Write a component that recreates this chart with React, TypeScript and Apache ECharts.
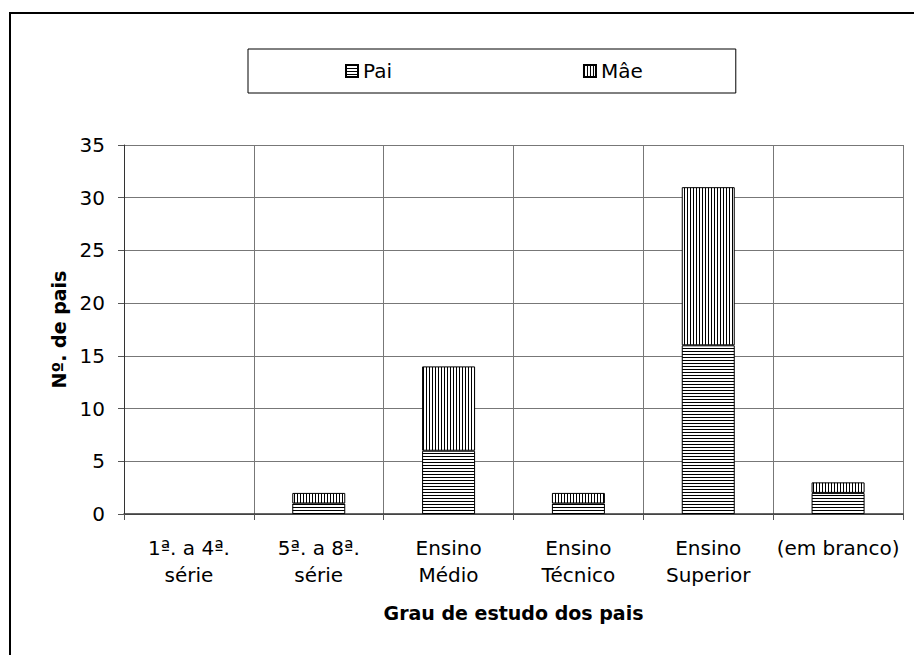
import React, { useEffect, useRef } from "react";
import * as echarts from "echarts";

// Education level categories (x axis)
const categories = [
  "1ª. a 4ª.\nsérie",
  "5ª. a 8ª.\nsérie",
  "Ensino\nMédio",
  "Ensino\nTécnico",
  "Ensino\nSuperior",
  "(em branco)",
];

// Number of fathers / mothers per level (stacked)
const paiValues = [0, 1, 6, 1, 16, 2];
const maeValues = [0, 1, 8, 1, 15, 1];

const seriesNames = ["Pai", "Mâe"];

const yMin = 0;
const yMax = 35;
const yInterval = 5;

const FONT = "DejaVu Sans";

// Line-hatch fills drawn on small canvases and tiled as patterns
function makeHatch(horizontal: boolean) {
  const c = document.createElement("canvas");
  const w = horizontal ? 4 : 3;
  const h = horizontal ? 3 : 4;
  c.width = w;
  c.height = h;
  const ctx = c.getContext("2d")!;
  ctx.fillStyle = "#ffffff";
  ctx.fillRect(0, 0, w, h);
  ctx.fillStyle = "#000000";
  if (horizontal) ctx.fillRect(0, 0, w, 1);
  else ctx.fillRect(0, 0, 1, h);
  return {
    image: c,
    repeat: "repeat",
    imageWidth: w,
    imageHeight: h,
  } as any;
}

// Empty segments get no outline so nothing shows on the axis
const toBarData = (values: number[]) =>
  values.map((v) =>
    v === 0 ? { value: v, itemStyle: { borderWidth: 0 } } : v
  );

export default function App() {
  const ref = useRef<HTMLDivElement>(null);

  useEffect(() => {
    if (!ref.current) return;
    const chart = echarts.init(ref.current, null, { renderer: "svg" });

    const horiz = makeHatch(true);
    const vert = makeHatch(false);

    chart.setOption({
      animation: false,
      backgroundColor: "#ffffff",
      textStyle: { fontFamily: FONT, color: "#000" },
      graphic: [
        {
          type: "rect",
          shape: { x: 10, y: 13, width: 1000, height: 1000 },
          style: { fill: "none", stroke: "#000", lineWidth: 2 },
          silent: true,
          z: 100,
        },
      ],
      legend: {
        left: 248,
        top: 49,
        orient: "horizontal",
        padding: [12, 93, 12, 97],
        itemGap: 191,
        itemWidth: 12,
        itemHeight: 12,
        borderColor: "#000",
        borderWidth: 1,
        backgroundColor: "#fff",
        icon: "rect",
        textStyle: {
          fontFamily: FONT,
          fontSize: 20,
          lineHeight: 20,
          color: "#000",
        },
        data: seriesNames,
      },
      grid: {
        left: 124,
        top: 145,
        right: 11,
        bottom: 141,
        containLabel: false,
      },
      xAxis: {
        type: "category",
        data: categories,
        boundaryGap: true,
        name: "Grau de estudo dos pais",
        nameLocation: "middle",
        nameGap: 89,
        nameTextStyle: {
          fontFamily: FONT,
          fontSize: 19,
          fontWeight: "bold",
          color: "#000",
        },
        axisLine: { show: true, lineStyle: { color: "#333", width: 1.5 } },
        axisTick: {
          show: true,
          length: 6,
          alignWithLabel: false,
          lineStyle: { color: "#555" },
        },
        axisLabel: {
          interval: 0,
          margin: 20,
          fontFamily: FONT,
          fontSize: 20,
          lineHeight: 27,
          color: "#000",
        },
        splitLine: { show: true, lineStyle: { color: "#777", width: 1 } },
      },
      yAxis: {
        type: "value",
        min: yMin,
        max: yMax,
        interval: yInterval,
        name: "Nº. de pais",
        nameLocation: "middle",
        nameGap: 51,
        nameTextStyle: {
          fontFamily: FONT,
          fontSize: 19,
          fontWeight: "bold",
          color: "#000",
        },
        axisLine: { show: true, lineStyle: { color: "#333", width: 1 } },
        axisTick: { show: true, length: 6, lineStyle: { color: "#555" } },
        axisLabel: {
          margin: 19,
          fontFamily: FONT,
          fontSize: 20,
          color: "#000",
        },
        splitLine: { show: true, lineStyle: { color: "#777", width: 1 } },
      },
      series: [
        {
          name: seriesNames[0],
          type: "bar",
          stack: "pais",
          barWidth: 53,
          data: toBarData(paiValues),
          itemStyle: { color: horiz, borderColor: "#000", borderWidth: 1 },
        },
        {
          name: seriesNames[1],
          type: "bar",
          stack: "pais",
          barWidth: 53,
          data: toBarData(maeValues),
          itemStyle: { color: vert, borderColor: "#000", borderWidth: 1 },
        },
      ],
    });

    return () => chart.dispose();
  }, []);

  return (
    <div
      ref={ref}
      style={{ position: "absolute", left: 0, top: 0, width: 914, height: 655 }}
    />
  );
}
